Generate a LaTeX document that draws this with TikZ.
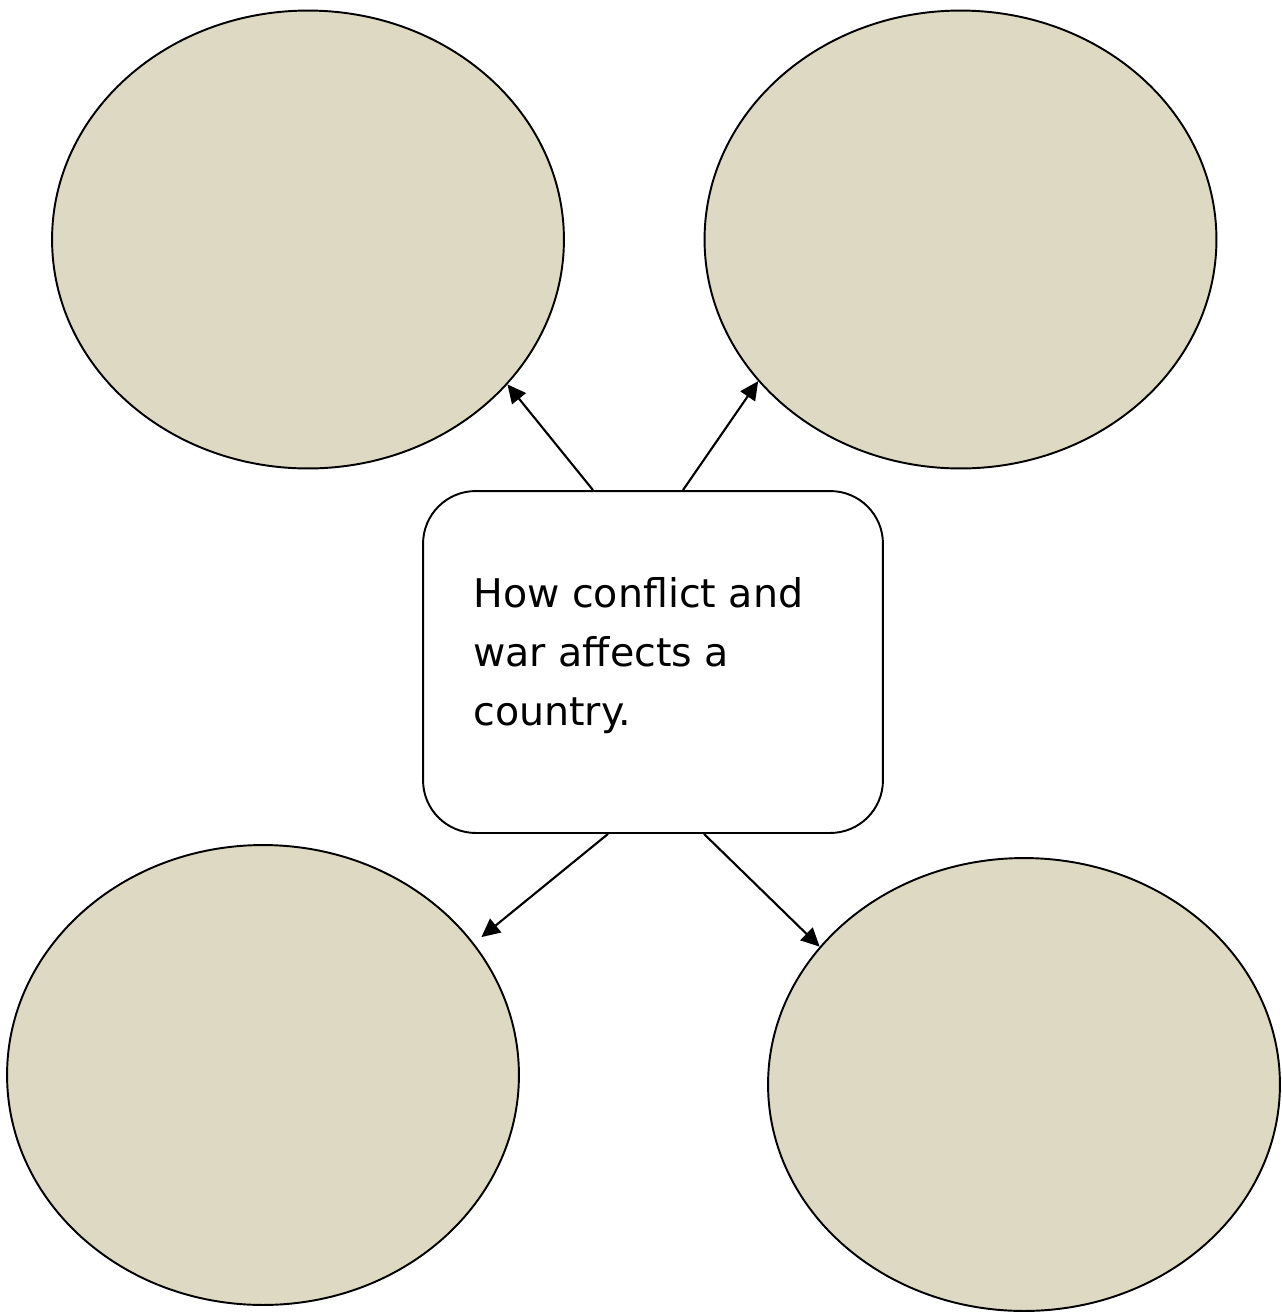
\documentclass[tikz,border=0pt]{standalone}
\definecolor{bubbletan}{RGB}{221,217,195}
\usepackage{fontspec}
\setmainfont{DejaVu Sans}
\usepackage{tikz}
\usetikzlibrary{shapes,arrows.meta,positioning,calc}

\tikzset{
    bubble/.style={ellipse, draw=black, line width=1.1pt, fill=bubbletan, minimum width=10.24cm, minimum height=9.16cm},
    topicbox/.style={rounded corners=30pt, draw=black, line width=1.1pt, fill=white, minimum width=9.2cm, minimum height=6.84cm},
    link/.style={-{Triangle[length=10.5pt,width=10pt]}, line width=1.2pt}
}

\begin{document}
\begin{tikzpicture}[x=0.02cm, y=-0.02cm]
            \useasboundingbox (0,0) rectangle (1282,1313);
            % four empty bubbles
            \node[bubble] (topleft) at (308,239.5) {};
            \node[bubble] (topright) at (960.5,239.5) {};
            \node[bubble, minimum height=9.2cm] (bottomleft) at (263,1075) {};
            \node[bubble, minimum height=9.06cm] (bottomright) at (1024,1084.5) {};
            % central topic
            \node[topicbox] (topic) at (653,662) {};
            \node[anchor=north west, inner sep=0pt, align=left, font=\fontsize{22.5pt}{33.5pt}\selectfont] (topictext) at (473,577) {How conflict and\\war affects a\\country.};
            % arrows out of the topic
            \draw[link] ($(topic.north)+(-60,0)$) -- (topleft.-36.5);
            \draw[link] ($(topic.north)+(30,0)$) -- (topright.-145.5);
            \draw[link, shorten >=5.5pt] ($(topic.south)+(-45,0)$) -- (bottomleft.32);
            \draw[link] ($(topic.south)+(51,0)$) -- (bottomright.146.2);
        \end{tikzpicture}
\end{document}
